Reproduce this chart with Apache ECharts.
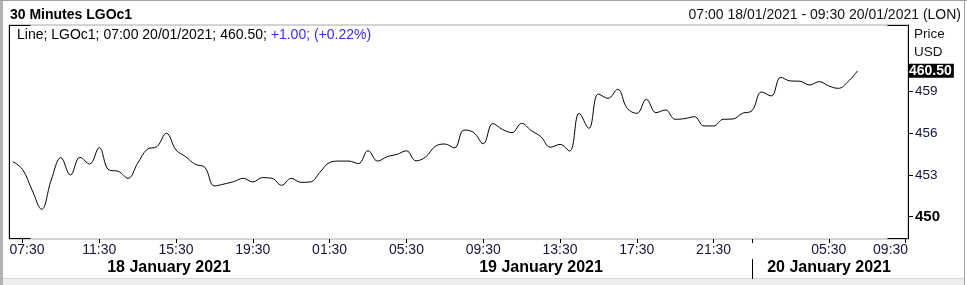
<!DOCTYPE html>
<html><head><meta charset="utf-8">
<script src="https://cdn.jsdelivr.net/npm/echarts@6/dist/echarts.min.js"></script>
<style>html,body{margin:0;padding:0;background:#fff;overflow:hidden}#c{width:967px;height:285px}</style>
</head><body><div id="c"></div>
<script>
// 30-minute closes, LGOc1, 07:00 18/01/2021 .. 07:00 20/01/2021 (trading slots only)
const prices = [
  453.96, 453.41, 451.92, 450.53, 452.64, 454.25, 453.00, 454.27, 453.79, 454.97,
  453.36, 453.26, 452.76, 453.84, 454.85, 455.04, 456.00, 454.80, 454.32, 453.77,
  453.55, 452.21, 452.35, 452.52, 452.76, 452.50, 452.81, 452.76, 452.26, 452.76,
  452.47, 452.50, 453.20, 453.90, 454.00, 454.00, 453.82, 454.75, 454.00, 454.32,
  454.48, 454.74, 454.02, 454.30, 455.06, 455.23, 454.95, 456.24, 456.06, 455.25,
  456.70, 456.28, 456.05, 456.72, 456.20, 455.76, 455.00, 455.20, 454.72, 457.44,
  456.36, 458.83, 458.52, 459.17, 457.80, 457.44, 458.45, 457.49, 457.68, 457.01,
  457.06, 457.20, 456.53, 456.53, 457.01, 457.03, 457.44, 457.63, 458.98, 458.69,
  460.03, 459.77, 459.75, 459.48, 459.72, 459.41, 459.24, 459.72, 460.50
];
const tickIndex  = [1, 9, 17, 25, 33, 41, 49, 57, 65, 73, 77, 85, 93];
const tickLabels = ['07:30','11:30','15:30','19:30','01:30','05:30','09:30','13:30','17:30','21:30','','05:30','09:30'];
const yTicks = [450, 453, 456, 459];
const lastPrice = 460.50;
const dayLabels = ['18 January 2021', '19 January 2021', '20 January 2021'];
const dayBreakIndex = 77;
const title = '30 Minutes LGOc1';
const rangeText = '07:00 18/01/2021 - 09:30 20/01/2021 (LON)';
const legendBlack = 'Line; LGOc1; 07:00 20/01/2021; 460.50; ';
const legendBlue = '+1.00; (+0.22%)';

const FONT = '"Liberation Sans", Arial, sans-serif';
const LBL = '#14143c';
const GL = 9, GT = 25, GW = 899, GH = 214;

const chart = echarts.init(document.getElementById('c'), null, {renderer: 'canvas'});
const yMin = 448.39, yMax = 463.80;

chart.setOption({
  animation: false,
  grid: {left: GL, top: GT, width: GW, height: GH, show: true, borderColor: '#a8a8a8', borderWidth: 1, backgroundColor: '#fff'},
  xAxis: {
    type: 'value', min: -0.4, max: 93.25,
    splitLine: {show: false},
    axisLine: {show: false, onZero: false},
    axisTick: {show: true, customValues: tickIndex, length: 4, inside: false, lineStyle: {color: '#000', width: 1}},
    axisLabel: {
      customValues: tickIndex, margin: 4, color: LBL, fontFamily: FONT, fontSize: 14,
      formatter: function (v) {
        const k = tickIndex.indexOf(Math.round(v));
        const s = k >= 0 ? tickLabels[k] : '';
        if (!s) return '';
        if (k === 0) return '{f|' + s + '}';
        if (k === tickIndex.length - 1) return '{l|' + s + '}';
        return s;
      },
      rich: {
        f: {fontFamily: FONT, fontSize: 14, color: LBL, padding: [0, 0, 0, 9]},
        l: {fontFamily: FONT, fontSize: 14, color: LBL, padding: [0, 30, 0, 0]}
      }
    }
  },
  yAxis: [
    {
      type: 'value', position: 'right', min: yMin, max: yMax,
      splitLine: {show: false},
      axisLine: {show: true, onZero: false, lineStyle: {color: '#000', width: 1}},
      axisTick: {show: true, customValues: yTicks, length: 5, inside: false, lineStyle: {color: '#000', width: 1}},
      axisLabel: {
        customValues: yTicks, margin: 7, color: LBL, fontFamily: FONT, fontSize: 13.5,
        formatter: function (v) { return v === 450 ? '{b|450}' : '{n|' + v + '}'; },
        rich: {
          b: {fontFamily: FONT, fontSize: 15, fontWeight: 'bold', color: '#000'},
          n: {fontFamily: FONT, fontSize: 13.5, color: LBL}
        }
      }
    },
    {
      type: 'value', position: 'right', min: yMin, max: yMax, offset: 0,
      splitLine: {show: false}, axisLine: {show: false, onZero: false}, axisTick: {show: false},
      axisLabel: {
        customValues: [lastPrice], margin: 0,
        formatter: function (v) { return '{box|' + v.toFixed(2) + '}'; },
        rich: {
          box: {fontFamily: FONT, fontSize: 14, fontWeight: 'bold', color: '#fff', backgroundColor: '#000',
                lineHeight: 14, padding: [0, 2, 0, 1]}
        }
      }
    }
  ],
  series: [{
    type: 'line', yAxisIndex: 0, showSymbol: false, symbol: 'none', smooth: 0.4,
    lineStyle: {color: '#000', width: 1}, silent: true,
    data: prices.map(function (v, i) { return [i, v]; })
  }]
});

const xb = Math.round(chart.convertToPixel({xAxisIndex: 0}, dayBreakIndex)) + 0.5;
const L = GL + 0.5, R = GL + GW - 0.5, T = GT + 0.5, B = GT + GH - 0.5;
chart.setOption({
  graphic: [
    // window frame
    {type: 'rect', shape: {x: 0, y: 0, width: 3, height: 285}, style: {fill: '#b4b4b4'}, silent: true},
    {type: 'rect', shape: {x: 0, y: 0, width: 967, height: 1}, style: {fill: '#a0a0a0'}, silent: true},
    {type: 'rect', shape: {x: 964, y: 0, width: 1, height: 285}, style: {fill: '#a0a0a0'}, silent: true},
    {type: 'rect', shape: {x: 3, y: 279, width: 961, height: 6}, style: {fill: '#eeeeee'}, silent: true},
    {type: 'rect', shape: {x: 3, y: 278, width: 961, height: 1}, style: {fill: '#d8d8d8'}, silent: true},
    // plot frame: left edge and corner marks
    {type: 'line', shape: {x1: L, y1: T, x2: L, y2: B}, style: {stroke: '#000', lineWidth: 1}, silent: true},
    {type: 'line', shape: {x1: L, y1: T, x2: L + 21, y2: T}, style: {stroke: '#000', lineWidth: 1}, silent: true},
    {type: 'line', shape: {x1: L, y1: B, x2: L + 21, y2: B}, style: {stroke: '#000', lineWidth: 1}, silent: true},
    {type: 'line', shape: {x1: R - 20, y1: T, x2: R, y2: T}, style: {stroke: '#000', lineWidth: 1}, silent: true},
    {type: 'line', shape: {x1: R - 20, y1: B, x2: R, y2: B}, style: {stroke: '#000', lineWidth: 1}, silent: true},
    // day separator
    {type: 'line', shape: {x1: xb, y1: 259, x2: xb, y2: 279}, style: {stroke: '#000', lineWidth: 1}, silent: true},
    // header
    {type: 'text', left: 10, top: 8, style: {text: title, font: 'bold 14px ' + FONT, fill: '#000'}, silent: true},
    {type: 'text', right: 6, top: 8, style: {text: rangeText, font: '14px ' + FONT, fill: '#111'}, silent: true},
    {type: 'text', left: 17, top: 28, style: {
      text: '{k|' + legendBlack + '}{b|' + legendBlue + '}',
      rich: {k: {fontFamily: FONT, fontSize: 14, color: '#000', fill: '#000'},
             b: {fontFamily: FONT, fontSize: 14, color: '#3a2cf0', fill: '#3a2cf0'}}
    }, silent: true},
    {type: 'text', left: 914, top: 27, style: {text: 'Price', font: '13.5px ' + FONT, fill: '#111'}, silent: true},
    {type: 'text', left: 914, top: 45, style: {text: 'USD', font: '13.5px ' + FONT, fill: '#111'}, silent: true},
    // day labels
    {type: 'text', x: 169, y: 268, style: {text: dayLabels[0], font: 'bold 16px ' + FONT, fill: '#000', align: 'center', verticalAlign: 'middle'}, silent: true},
    {type: 'text', x: 541, y: 268, style: {text: dayLabels[1], font: 'bold 16px ' + FONT, fill: '#000', align: 'center', verticalAlign: 'middle'}, silent: true},
    {type: 'text', x: 829, y: 268, style: {text: dayLabels[2], font: 'bold 16px ' + FONT, fill: '#000', align: 'center', verticalAlign: 'middle'}, silent: true}
  ]
});
</script></body></html>
